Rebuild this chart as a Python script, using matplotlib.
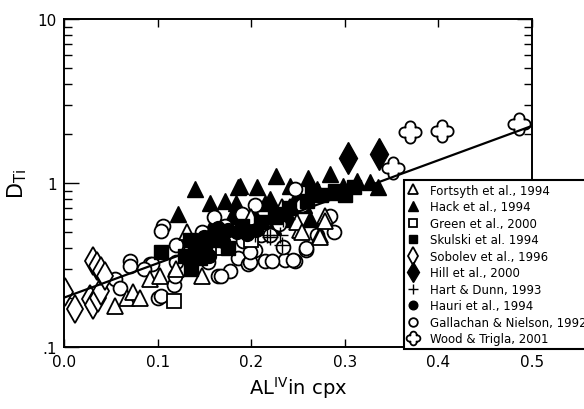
import matplotlib.pyplot as plt
import numpy as np
from matplotlib.path import Path

# data
fortsyth_x = [0.054, 0.067, 0.074, 0.081, 0.092, 0.103, 0.131, 0.147, 0.233, 0.241,
              0.252, 0.273, 0.279, 0.249, 0.279, 0.274, 0.254, 0.12, 0.16, 0.20]
fortsyth_y = [0.178, 0.20, 0.215, 0.20, 0.26, 0.27, 0.50, 0.27, 0.71, 0.71,
              0.52, 0.48, 0.63, 0.58, 0.59, 0.47, 0.50, 0.30, 0.46, 0.62]

hack_x = [0.122, 0.140, 0.156, 0.161, 0.172, 0.179, 0.186, 0.188, 0.184, 0.191,
          0.202, 0.206, 0.215, 0.220, 0.223, 0.227, 0.241, 0.241, 0.249, 0.256,
          0.261, 0.263, 0.270, 0.284, 0.284, 0.298, 0.313, 0.327, 0.335]
hack_y = [0.65, 0.92, 0.76, 0.60, 0.78, 0.63, 0.95, 0.96, 0.76, 0.60,
          0.67, 0.94, 0.75, 0.80, 0.55, 1.11, 0.96, 0.60, 0.84, 0.73,
          1.08, 0.60, 0.92, 1.13, 0.88, 0.96, 1.03, 1.01, 0.95]

green_x = [0.117, 0.17, 0.20]
green_y = [0.19, 0.40, 0.45]

skulski_x = [0.104, 0.129, 0.136, 0.140, 0.151, 0.145, 0.165, 0.19, 0.21, 0.225,
             0.24, 0.26, 0.275, 0.29, 0.31, 0.135, 0.175, 0.23, 0.265, 0.30]
skulski_y = [0.38, 0.36, 0.30, 0.42, 0.42, 0.35, 0.45, 0.55, 0.58, 0.62,
             0.70, 0.78, 0.85, 0.90, 0.95, 0.45, 0.40, 0.65, 0.90, 0.85]

sobolev_x = [0.001, 0.012, 0.028, 0.031, 0.036, 0.040, 0.031, 0.035, 0.040, 0.044]
sobolev_y = [0.216, 0.170, 0.196, 0.180, 0.200, 0.220, 0.336, 0.31, 0.29, 0.27]

hill_x = [0.303, 0.337]
hill_y = [1.42, 1.50]

hart_x = [0.188, 0.204, 0.217, 0.22, 0.231, 0.233, 0.234, 0.238]
hart_y = [0.52, 0.49, 0.48, 0.47, 0.48, 0.42, 0.60, 0.60]

hauri_x = [0.15, 0.16, 0.165, 0.175, 0.185, 0.195, 0.205, 0.14, 0.17, 0.155]
hauri_y = [0.47, 0.50, 0.53, 0.52, 0.50, 0.49, 0.52, 0.40, 0.44, 0.36]

gall_x = [0.070, 0.070, 0.092, 0.054, 0.100, 0.104, 0.117, 0.119, 0.106, 0.104,
          0.094, 0.147, 0.170, 0.154, 0.164, 0.177, 0.120, 0.172, 0.195, 0.211,
          0.168, 0.186, 0.197, 0.204, 0.215, 0.236, 0.247, 0.259, 0.234, 0.288,
          0.284, 0.199, 0.206, 0.220, 0.254, 0.247, 0.204, 0.259, 0.245, 0.222,
          0.199, 0.191, 0.12, 0.135, 0.16, 0.06, 0.085, 0.27, 0.23, 0.19]
gall_y = [0.336, 0.31, 0.32, 0.26, 0.20, 0.205, 0.24, 0.27, 0.55, 0.51,
          0.32, 0.50, 0.54, 0.33, 0.27, 0.29, 0.42, 0.55, 0.44, 0.48,
          0.27, 0.35, 0.32, 0.39, 0.336, 0.34, 0.336, 0.39, 0.41, 0.50,
          0.63, 0.33, 0.58, 0.48, 0.73, 0.92, 0.73, 0.40, 0.34, 0.336,
          0.38, 0.44, 0.33, 0.42, 0.62, 0.23, 0.30, 0.48, 0.56, 0.65]

wood_x = [0.370, 0.404, 0.486, 0.352]
wood_y = [2.05, 2.08, 2.29, 1.23]

fit_x = [0.0, 0.5]
fit_y = [0.2, 2.23]

# four-lobed marker for Wood & Trigla: outline of four overlapping circles
d, a = 0.55, 0.45
t = np.linspace(0, 2 * np.pi, 400)
rr = []
for phi in [0, np.pi / 2, np.pi, 1.5 * np.pi]:
    s = d * np.sin(t - phi)
    c = d * np.cos(t - phi)
    rr.append(np.where(np.abs(s) <= a, c + np.sqrt(np.clip(a ** 2 - s ** 2, 0, None)), 0))
r = np.max(rr, axis=0)
clover = Path(np.column_stack([r * np.cos(t), r * np.sin(t)]), closed=True)

fig = plt.figure(figsize=(5.84, 4.10), dpi=100)
ax = fig.add_axes([64 / 584, 62 / 410, 468 / 584, 328 / 410])

lw = 1.3
ax.plot(hack_x, hack_y, '^', color='k', ms=11, label='Hack et al., 1994')
ax.plot(gall_x, gall_y, 'o', mfc='white', mec='k', mew=lw, ms=10, label='Gallachan & Nielson, 1992')
ax.plot(fortsyth_x, fortsyth_y, '^', mfc='white', mec='k', mew=lw, ms=11, label='Fortsyth et al., 1994')
ax.plot(green_x, green_y, 's', mfc='white', mec='k', mew=lw, ms=10, label='Green et al., 2000')
ax.plot(skulski_x, skulski_y, 's', color='k', ms=10, label='Skulski et al. 1994')
ax.plot(hauri_x, hauri_y, 'o', color='k', ms=10, label='Hauri et al., 1994')
ax.plot(hart_x, hart_y, '+', color='k', mew=1.0, ms=12, label='Hart & Dunn, 1993')
ax.plot(sobolev_x, sobolev_y, 'd', mfc='white', mec='k', mew=lw, ms=14, label='Sobolev et al., 1996')
ax.plot(hill_x, hill_y, 'd', color='k', ms=16, label='Hill et al., 2000')
ax.plot(fit_x, fit_y, '-', color='k', lw=1.6, zorder=2.5)
ax.plot(wood_x, wood_y, marker=clover, ls='none', mfc='white', mec='k', mew=lw, ms=16,
        label='Wood & Trigla, 2001')

ax.set_yscale('log')
ax.set_xlim(0, 0.5)
ax.set_ylim(0.1, 10)
ax.set_xticks([0.0, 0.1, 0.2, 0.3, 0.4, 0.5])
ax.set_xticklabels(['0.0', '0.1', '0.2', '0.3', '0.4', '0.5'])
ax.set_yticks([0.1, 1, 10])
ax.set_yticklabels(['.1', '1', '10'])
ax.tick_params(axis='both', which='both', direction='in', top=True, right=True,
               labelsize=11, width=1.0, pad=5)
ax.tick_params(axis='y', which='major', length=11)
ax.tick_params(axis='x', which='major', length=6)
ax.tick_params(axis='y', which='minor', length=6)
for s in ax.spines.values():
    s.set_linewidth(1.4)

ax.set_xlabel('AL$^{\\mathregular{IV}}$in cpx', fontsize=14, labelpad=4)
ax.set_ylabel('$\\mathregular{D_{Ti}}$', fontsize=15, labelpad=6)

handles, labels = ax.get_legend_handles_labels()
order = ['Fortsyth et al., 1994', 'Hack et al., 1994', 'Green et al., 2000',
         'Skulski et al. 1994', 'Sobolev et al., 1996', 'Hill et al., 2000',
         'Hart & Dunn, 1993', 'Hauri et al., 1994', 'Gallachan & Nielson, 1992',
         'Wood & Trigla, 2001']
hmap = dict(zip(labels, handles))
leg = ax.legend([hmap[k] for k in order], order, loc='lower left',
                bbox_to_anchor=(404 / 584, 60 / 410), bbox_transform=fig.transFigure,
                borderaxespad=0, fontsize=8.5, markerscale=0.62, handlelength=1.0,
                handletextpad=0.9, labelspacing=0.3, borderpad=0.3,
                fancybox=False, framealpha=1, edgecolor='k')
leg.get_frame().set_linewidth(1.5)

fig.savefig('out.png', dpi=100)
